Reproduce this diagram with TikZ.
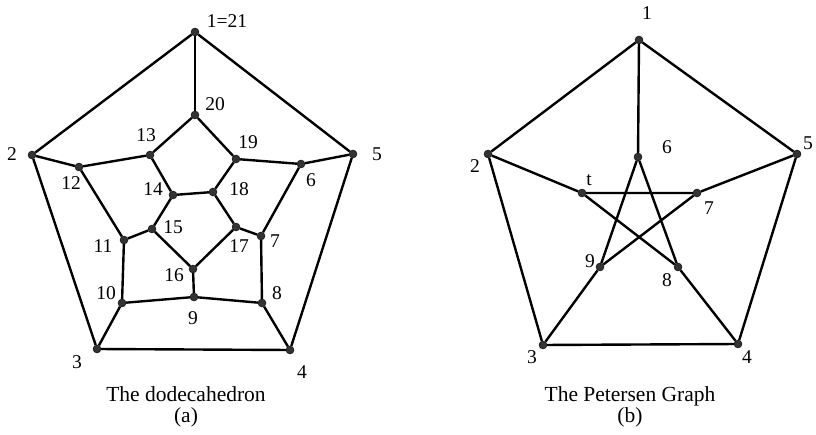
\documentclass[tikz,border=0pt]{standalone}
\usepackage{fontspec}
\setmainfont{Liberation Serif}
\usetikzlibrary{positioning}

\begin{document}
\begin{tikzpicture}[x=1pt, y=-1pt,
  vtx/.style={circle, draw=black, fill=black!80, inner sep=0pt, minimum size=8pt},
  lab/.style={font=\fontsize{19.5}{20}\selectfont, inner sep=0pt},
  captxt/.style={font=\fontsize{21.5}{22}\selectfont, inner sep=0pt, anchor=base},
  edge/.style={line width=2.4pt, black}]
\useasboundingbox (0,0) rectangle (816,435);
% (a) dodecahedron
\node[vtx] (d1) at (195,32) {};
\node[vtx] (d2) at (32,155) {};
\node[vtx] (d3) at (97,349) {};
\node[vtx] (d4) at (290,350) {};
\node[vtx] (d5) at (353,154) {};
\node[vtx] (d6) at (301,164) {};
\node[vtx] (d7) at (261,236) {};
\node[vtx] (d8) at (262,303) {};
\node[vtx] (d9) at (194,297) {};
\node[vtx] (d10) at (122,303) {};
\node[vtx] (d11) at (124,240) {};
\node[vtx] (d12) at (79,167) {};
\node[vtx] (d13) at (150,155) {};
\node[vtx] (d14) at (173,195) {};
\node[vtx] (d15) at (152,229) {};
\node[vtx] (d16) at (193,269) {};
\node[vtx] (d17) at (236,227) {};
\node[vtx] (d18) at (213,192) {};
\node[vtx] (d19) at (236,159) {};
\node[vtx] (d20) at (195,115) {};
\draw[edge] (d1) -- (d2) -- (d3) -- (d4) -- (d5) -- (d1);
\draw[edge] (d1) -- (d20);
\draw[edge] (d2) -- (d12);
\draw[edge] (d3) -- (d10);
\draw[edge] (d4) -- (d8);
\draw[edge] (d5) -- (d6);
\draw[edge] (d12) -- (d13) -- (d20) -- (d19) -- (d6) -- (d7) -- (d8) -- (d9) -- (d10) -- (d11) -- (d12);
\draw[edge] (d13) -- (d14) -- (d15) -- (d11);
\draw[edge] (d14) -- (d18) -- (d19);
\draw[edge] (d18) -- (d17) -- (d7);
\draw[edge] (d15) -- (d16) -- (d17);
\draw[edge] (d16) -- (d9);
\node[lab] (ld1) at (227,21) {1=21};
\node[lab] (ld2) at (12,154) {2};
\node[lab] (ld3) at (77,362) {3};
\node[lab] (ld4) at (302,372) {4};
\node[lab] (ld5) at (377,154) {5};
\node[lab] (ld6) at (311,180) {6};
\node[lab] (ld7) at (275,241) {7};
\node[lab] (ld8) at (277,293) {8};
\node[lab] (ld9) at (193,318) {9};
\node[lab] (ld10) at (106,293) {10};
\node[lab] (ld11) at (103,246) {11};
\node[lab] (ld12) at (71,183) {12};
\node[lab] (ld13) at (146,135) {13};
\node[lab] (ld14) at (153,189) {14};
\node[lab] (ld15) at (173,227) {15};
\node[lab] (ld16) at (174,275) {16};
\node[lab] (ld17) at (239,246) {17};
\node[lab] (ld18) at (239,189) {18};
\node[lab] (ld19) at (248,142) {19};
\node[lab] (ld20) at (215,104) {20};
\node[captxt] (capa) at (186,401) {The dodecahedron};
\node[captxt] (tagA) at (186,422) {(a)};
% (b) Petersen graph
\node[vtx] (p1) at (639,40) {};
\node[vtx] (p2) at (488,154) {};
\node[vtx] (p3) at (543,345) {};
\node[vtx] (p4) at (738,344) {};
\node[vtx] (p5) at (797,154) {};
\node[vtx] (p6) at (638,157) {};
\node[vtx] (p7) at (697,193) {};
\node[vtx] (p8) at (678,267) {};
\node[vtx] (p9) at (600,267) {};
\node[vtx] (pt) at (582,193) {};
\draw[edge] (p1) -- (p2) -- (p3) -- (p4) -- (p5) -- (p1);
\draw[edge] (p1) -- (p6);
\draw[edge] (p2) -- (pt);
\draw[edge] (p3) -- (p9);
\draw[edge] (p4) -- (p8);
\draw[edge] (p5) -- (p7);
\draw[edge] (p6) -- (p9) -- (p7) -- (pt) -- (p8) -- (p6);
\node[lab] (lp1) at (647,13) {1};
\node[lab] (lp2) at (475,166) {2};
\node[lab] (lp3) at (532,357) {3};
\node[lab] (lp4) at (747,357) {4};
\node[lab] (lp5) at (808,143) {5};
\node[lab] (lp6) at (667,147) {6};
\node[lab] (lp7) at (709,208) {7};
\node[lab] (lp8) at (667,280) {8};
\node[lab] (lp9) at (590,261) {9};
\node[lab] (lpt) at (589,180) {t};
\node[captxt] (capb) at (630,401) {The Petersen Graph};
\node[captxt] (tagB) at (630,422) {(b)};
\end{tikzpicture}
\end{document}
